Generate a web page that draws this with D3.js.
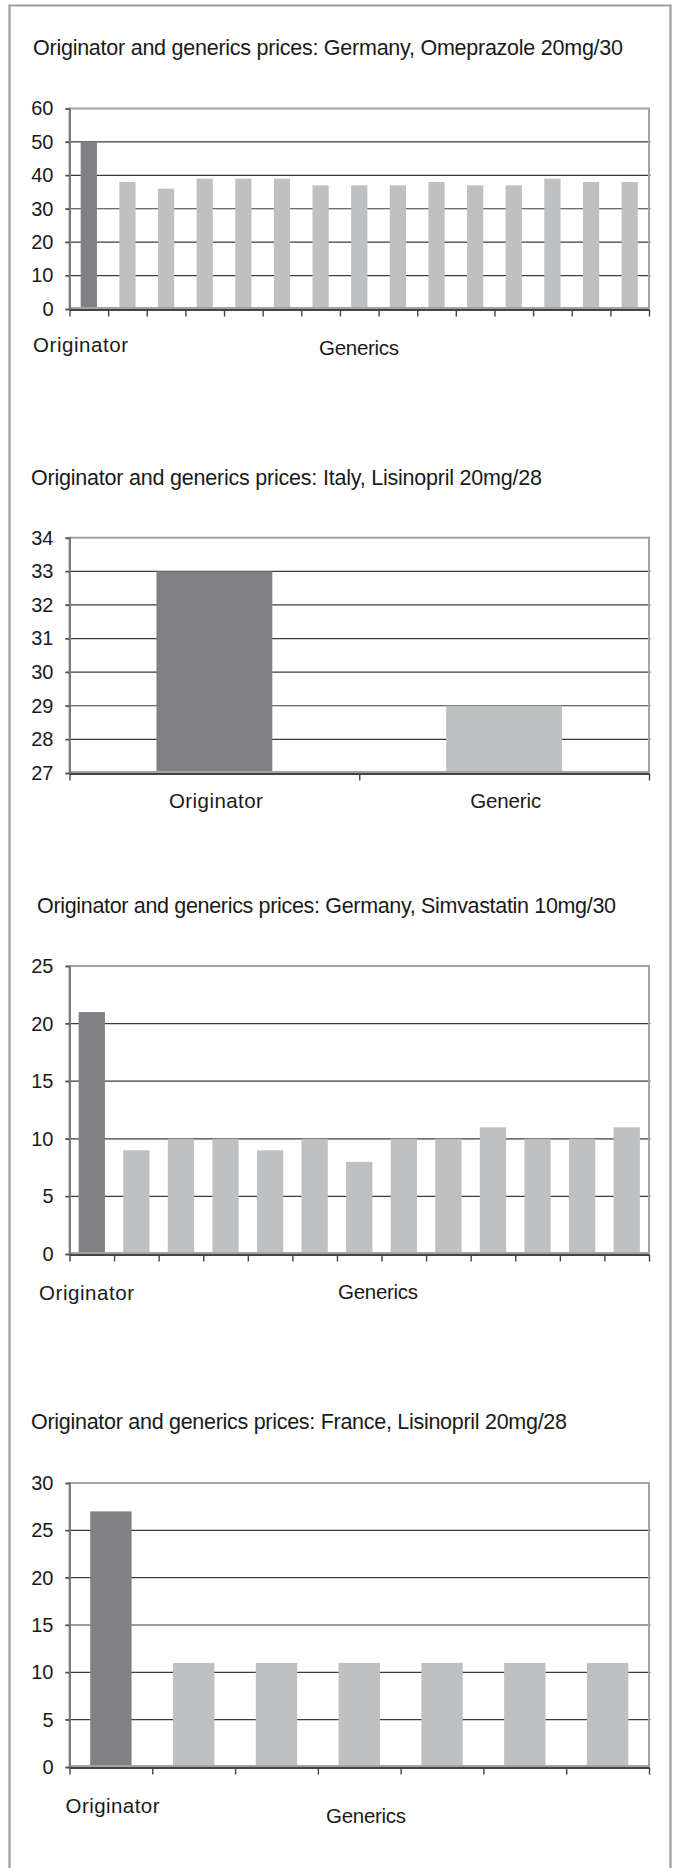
<!DOCTYPE html>
<html>
<head>
<meta charset="utf-8">
<script src="https://cdn.jsdelivr.net/npm/d3@7"></script>
<style>
  html, body { margin: 0; padding: 0; background: #fff; }
  svg { display: block; }
  text { font-family: "Liberation Sans", Arial, sans-serif; fill: #1a1a1a; }
</style>
</head>
<body>
<svg id="page" width="675" height="1868"></svg>
<script>
// Prices per pack: originator first, then the generic products
const omeprazoleDE = [50, 38, 36, 39, 39, 39, 37, 37, 37, 38, 37, 37, 39, 38, 38];
const lisinoprilIT = [33, 29];
const simvastatinDE = [21, 9, 10, 10, 9, 10, 8, 10, 10, 11, 10, 10, 11];
const lisinoprilFR = [27, 11, 11, 11, 11, 11, 11];

const titles = [
  "Originator and generics prices: Germany, Omeprazole 20mg/30",
  "Originator and generics prices: Italy, Lisinopril 20mg/28",
  "Originator and generics prices: Germany, Simvastatin 10mg/30",
  "Originator and generics prices: France, Lisinopril 20mg/28"
];

const ticksOmeprazoleDE = [0, 10, 20, 30, 40, 50, 60];
const ticksLisinoprilIT = [27, 28, 29, 30, 31, 32, 33, 34];
const ticksSimvastatinDE = [0, 5, 10, 15, 20, 25];
const ticksLisinoprilFR = [0, 5, 10, 15, 20, 25, 30];

const categoryLabelsIT = ["Originator", "Generic"];
const originatorLabel = "Originator";
const genericsLabel = "Generics";

const COLOR_ORIG = "#818185";
const COLOR_GEN = "#bfc0c2";

const svg = d3.select("#page");

// outer frame, open at the bottom of the page
svg.append("path")
  .attr("d", "M9.5,1870 V5.5 H670.5 V1870")
  .attr("fill", "none")
  .attr("stroke", "#9d9d9d")
  .attr("stroke-width", 2.2);

const plotLeft = 69.5, plotRight = 649;

function addText(g, t) {
  const el = g.append("text")
    .attr("x", t.x).attr("y", t.y)
    .attr("text-anchor", t.anchor || "start")
    .attr("font-size", t.size)
    .text(t.text);
  if (t.width) el.attr("textLength", t.width).attr("lengthAdjust", "spacing");
  return el;
}

function drawChart(cfg) {
  const g = svg.append("g");
  const n = cfg.values.length;
  const ids = d3.range(n);

  const y = d3.scaleLinear().domain(cfg.domain).range([cfg.bottom, cfg.top]);
  const pad = 1 - cfg.barFrac;
  const x = d3.scaleBand().domain(ids).range([plotLeft, plotRight])
    .paddingInner(pad).paddingOuter(pad / 2);
  const xEdge = d3.scaleLinear().domain([0, n]).range([plotLeft, plotRight]);

  addText(g, { text: cfg.title, x: cfg.titleX, y: cfg.titleY, size: 21.5, width: cfg.titleW });

  // horizontal gridlines
  g.append("g").selectAll("line")
    .data(cfg.ticks.slice(1, -1))
    .join("line")
    .attr("x1", plotLeft - 4).attr("x2", plotRight + 1.5)
    .attr("y1", d => y(d)).attr("y2", d => y(d))
    .attr("stroke", "#3c3c3c").attr("stroke-width", 1.2);

  // bars
  g.append("g").selectAll("rect")
    .data(cfg.values)
    .join("rect")
    .attr("x", (d, i) => x(i))
    .attr("width", x.bandwidth())
    .attr("y", d => y(d))
    .attr("height", d => y(cfg.domain[0]) - y(d))
    .attr("fill", (d, i) => i === 0 ? COLOR_ORIG : COLOR_GEN);

  // plot frame
  g.append("rect")
    .attr("x", plotLeft).attr("y", cfg.top)
    .attr("width", plotRight - plotLeft).attr("height", cfg.bottom - cfg.top - 1)
    .attr("fill", "none").attr("stroke", "#a3a3a3").attr("stroke-width", 2);

  // y axis
  const yAxis = g.append("g")
    .attr("transform", `translate(${plotLeft},0)`)
    .call(d3.axisLeft(y).tickValues(cfg.ticks).tickSize(4).tickPadding(12).tickFormat(d3.format("d")));
  yAxis.select(".domain").attr("stroke", "#7c7c7c").attr("stroke-width", 2);
  yAxis.selectAll(".tick line").attr("stroke", "#555").attr("stroke-width", 1.4);
  yAxis.selectAll(".tick text")
    .attr("font-size", 20).attr("fill", "#1a1a1a")
    .attr("font-family", "'Liberation Sans', Arial, sans-serif");

  // x axis with ticks on the category boundaries
  const xAxis = g.append("g")
    .attr("transform", `translate(0,${cfg.bottom + 0.5})`)
    .call(d3.axisBottom(xEdge).tickValues(d3.range(n + 1)).tickSize(7).tickSizeOuter(0).tickFormat(""));
  xAxis.select(".domain").attr("stroke", "#444").attr("stroke-width", 1.8);
  xAxis.selectAll(".tick line").attr("stroke", "#444").attr("stroke-width", 1.4);

  // category labels
  cfg.labels.forEach(l => addText(g, Object.assign({ size: 20.5 }, l)));
  return { x, y };
}

drawChart({
  title: titles[0], titleX: 33, titleY: 55, titleW: 590,
  values: omeprazoleDE, domain: [0, 60], ticks: ticksOmeprazoleDE,
  top: 108.5, bottom: 309, barFrac: 0.42,
  labels: [
    { text: originatorLabel, x: 33, y: 352, width: 95 },
    { text: genericsLabel, x: 359, y: 355, anchor: "middle", width: 80 }
  ]
});

const c2 = (() => {
  const n = lisinoprilIT.length;
  const band = d3.scaleBand().domain(d3.range(n)).range([plotLeft, plotRight]);
  const widths = [94, 71];
  return categoryLabelsIT.map((t, i) => ({
    text: t, x: band(i) + band.bandwidth() / 2 + 1.5, y: 808, anchor: "middle", width: widths[i]
  }));
})();

drawChart({
  title: titles[1], titleX: 31, titleY: 485, titleW: 511,
  values: lisinoprilIT, domain: [27, 34], ticks: ticksLisinoprilIT,
  top: 537.7, bottom: 773, barFrac: 0.4,
  labels: c2
});

drawChart({
  title: titles[2], titleX: 37, titleY: 913, titleW: 579,
  values: simvastatinDE, domain: [0, 25], ticks: ticksSimvastatinDE,
  top: 966, bottom: 1254, barFrac: 0.59,
  labels: [
    { text: originatorLabel, x: 39, y: 1300, width: 95 },
    { text: genericsLabel, x: 378, y: 1299, anchor: "middle", width: 80 }
  ]
});

drawChart({
  title: titles[3], titleX: 31, titleY: 1429, titleW: 536,
  values: lisinoprilFR, domain: [0, 30], ticks: ticksLisinoprilFR,
  top: 1483, bottom: 1767, barFrac: 0.5,
  labels: [
    { text: originatorLabel, x: 65.5, y: 1813, width: 94 },
    { text: genericsLabel, x: 366, y: 1823, anchor: "middle", width: 80 }
  ]
});
</script>
</body>
</html>
